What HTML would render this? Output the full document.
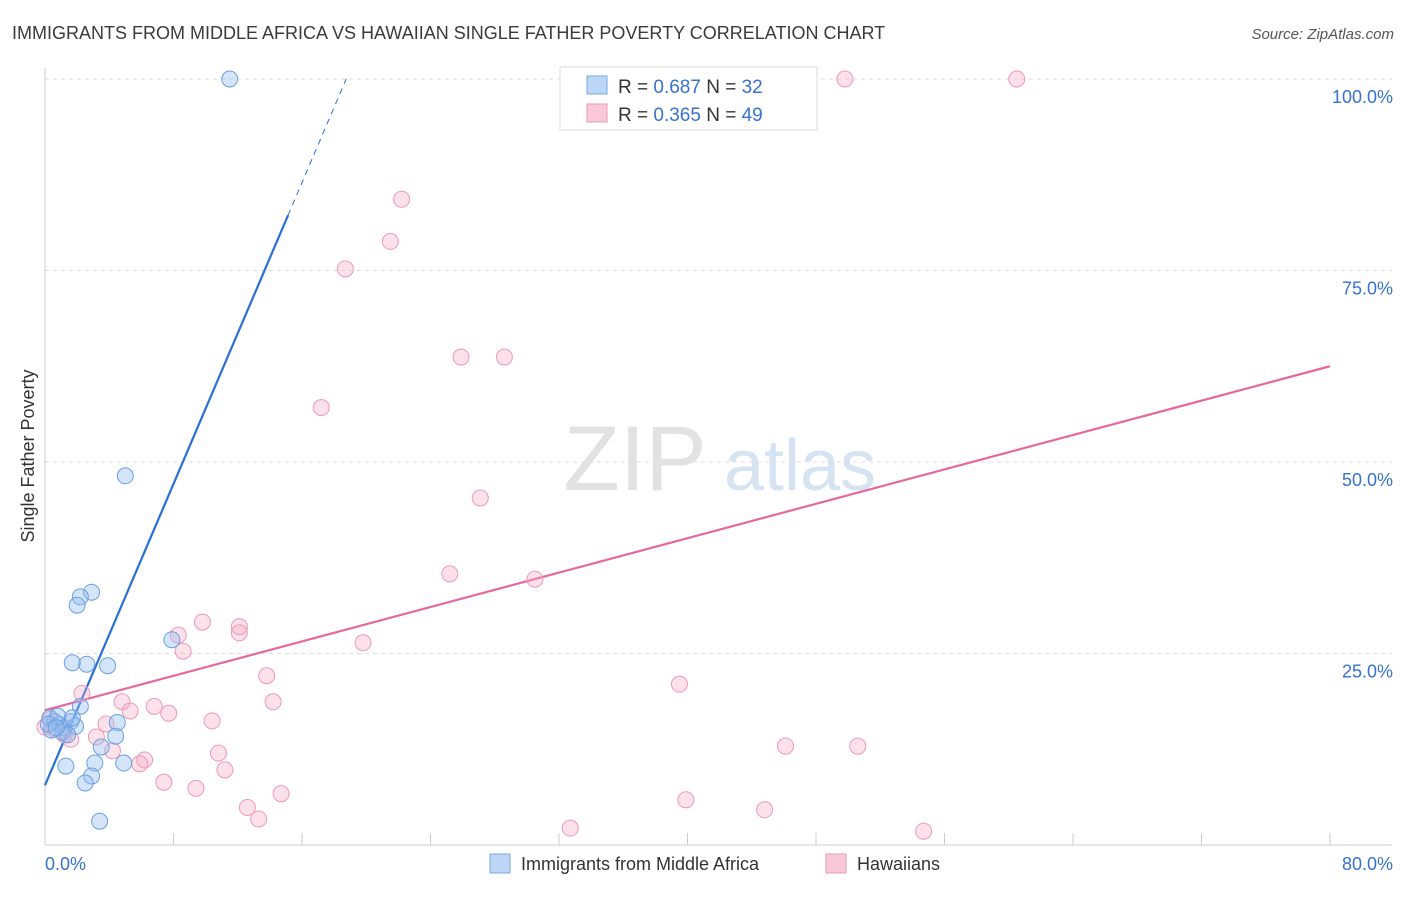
<!DOCTYPE html>
<html><head><meta charset="utf-8"><style>
body{margin:0;background:#fff;font-family:"Liberation Sans",sans-serif}
svg text{font-family:"Liberation Sans",sans-serif}
</style></head><body>
<svg id="chart" width="1406" height="892" viewBox="0 0 1406 892" xmlns="http://www.w3.org/2000/svg">
<text x="12" y="39" font-size="18" fill="#3a3a3a">IMMIGRANTS FROM MIDDLE AFRICA VS HAWAIIAN SINGLE FATHER POVERTY CORRELATION CHART</text>
<text x="1394" y="39" font-size="15" fill="#555" text-anchor="end" font-style="italic">Source: ZipAtlas.com</text>
<text transform="translate(34,456) rotate(-90)" font-size="18" fill="#333" text-anchor="middle">Single Father Poverty</text>
<g>
<text x="635" y="490" font-size="92" fill="#e2e2e2" font-family="Liberation Serif,serif" text-anchor="middle">ZIP</text>
<text x="800" y="490" font-size="72" fill="#d5e3f3" text-anchor="middle">atlas</text>
</g>
<g id="grid"></g><g id="axes"></g><g id="lines"></g><g id="pts"></g>
<g>
<rect x="560" y="67" width="257" height="63" fill="#fff" stroke="#ddd"/>
<rect x="587" y="76" width="20" height="18" fill="#bcd6f5" stroke="#7aa9e0"/>
<rect x="587" y="104" width="20" height="18" fill="#f9c9d8" stroke="#ec9ab5"/>
<text x="618" y="93" font-size="19" fill="#333">R = <tspan fill="#3672d0">0.687</tspan>   N = <tspan fill="#3672d0">32</tspan></text>
<text x="618" y="121" font-size="19" fill="#333">R = <tspan fill="#3672d0">0.365</tspan>   N = <tspan fill="#3672d0">49</tspan></text>
</g>
<g>
<rect x="490" y="854" width="20" height="19" fill="#bcd6f5" stroke="#7aa9e0"/>
<text x="521" y="870" font-size="18" fill="#333">Immigrants from Middle Africa</text>
<rect x="826" y="854" width="20" height="19" fill="#f9c9d8" stroke="#ec9ab5"/>
<text x="857" y="870" font-size="18" fill="#333">Hawaiians</text>
</g>
</svg>
<script>
const yTicks=[25,50,75,100];
const yTickLabels=["25.0%","50.0%","75.0%","100.0%"];
const xEndLabels=["0.0%","80.0%"];
const blueX=[11.5,5.0,2.9,2.2,2.0,1.7,2.6,3.9,7.9,2.2,4.5,4.4,3.5,3.1,4.9,1.3,2.9,2.5,3.4,0.3,0.6,0.9,1.2,1.6,1.9,0.8,0.4,1.1,1.4,1.7,0.2,0.7];
const blueY=[100,48.2,33.0,32.4,31.3,23.8,23.6,23.4,26.8,18.1,16.0,14.2,12.8,10.7,10.7,10.3,9.0,8.1,3.1,16.6,16.1,15.7,15.3,16.1,15.5,16.8,15.0,14.7,14.4,16.6,15.8,15.3];
const pinkX=[49.8,60.5,22.2,21.5,18.7,25.9,28.6,17.2,27.1,25.2,30.5,9.8,8.3,12.1,12.1,8.6,19.8,13.8,39.5,2.3,4.8,14.2,6.8,5.3,7.7,10.4,3.8,3.2,4.2,10.8,6.2,5.9,11.2,7.4,9.4,14.7,39.9,12.6,13.3,32.7,44.8,46.1,50.6,54.7,0.3,0.6,1.2,0.0,1.6];
const pinkY=[100,100,84.3,78.8,75.2,63.7,63.7,57.1,45.3,35.4,34.7,29.1,27.4,28.5,27.7,25.3,26.4,22.1,21.0,19.8,18.7,18.7,18.1,17.5,17.2,16.2,15.8,14.1,12.3,12.0,11.1,10.6,9.8,8.2,7.4,6.7,5.9,4.9,3.4,2.2,4.6,12.9,12.9,1.8,16.4,15.1,14.4,15.4,13.8];
const blueFit=[7.8,82.2,15.13], pinkFit=[17.6,62.5];
const NS="http://www.w3.org/2000/svg";
const X=v=>45+v/80*1285, Y=v=>845-v*7.66;
function mk(p,t,a,name){const e=document.createElementNS(NS,t);for(const k in a)e.setAttribute(k,a[k]);

document.getElementById(p).appendChild(e);return e;}
yTicks.forEach((t,i)=>{mk('grid','line',{x1:45,x2:1392,y1:Y(t),y2:Y(t),stroke:'#ddd','stroke-dasharray':'4,4'},'grid-line');
const tx=mk('grid','text',{x:1393,y:Y(t)+24,'font-size':18,fill:'#3672d0','text-anchor':'end'},'y-tick-label');tx.textContent=yTickLabels[i];});
mk('axes','line',{x1:45,x2:45,y1:68,y2:845,stroke:'#ccc'},'y-axis');
mk('axes','line',{x1:45,x2:1392,y1:845,y2:845,stroke:'#ccc'},'x-axis');
for(let i=0;i<=10;i++)mk('axes','line',{x1:X(i*8),x2:X(i*8),y1:833,y2:845,stroke:'#ccc'},'x-tick');
let t=mk('axes','text',{x:45,y:870,'font-size':18,fill:'#3672d0'},'x-tick-label');t.textContent=xEndLabels[0];
t=mk('axes','text',{x:1393,y:870,'font-size':18,fill:'#3672d0','text-anchor':'end'},'x-tick-label');t.textContent=xEndLabels[1];
const bs=(blueFit[1]-blueFit[0])/blueFit[2];
mk('lines','line',{x1:X(0),y1:Y(blueFit[0]),x2:X(blueFit[2]),y2:Y(blueFit[1]),stroke:'#2a6fd6','stroke-width':2.2},'blue-trend-line');
const xe=(100-blueFit[0])/bs;
mk('lines','line',{x1:X(blueFit[2]),y1:Y(blueFit[1]),x2:X(xe),y2:Y(100),stroke:'#2a6fd6','stroke-width':1,'stroke-dasharray':'6,5'},'blue-trend-extension');
mk('lines','line',{x1:X(0),y1:Y(pinkFit[0]),x2:X(80),y2:Y(pinkFit[1]),stroke:'#e8679a','stroke-width':2.2},'pink-trend-line');
pinkX.forEach((v,i)=>mk('pts','circle',{cx:X(v),cy:Y(pinkY[i]),r:8,fill:'rgba(246,170,196,0.35)',stroke:'#ec9ab5','stroke-width':1},'hawaiians-point'));
blueX.forEach((v,i)=>mk('pts','circle',{cx:X(v),cy:Y(blueY[i]),r:8,fill:'rgba(150,190,240,0.4)',stroke:'#6a9fe0','stroke-width':1},'middle-africa-point'));
</script>
</body></html>
